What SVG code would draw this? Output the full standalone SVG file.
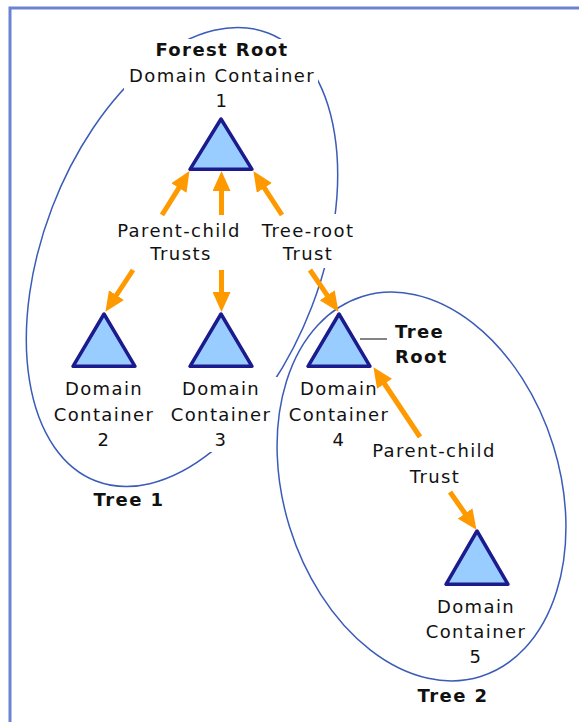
<svg xmlns="http://www.w3.org/2000/svg" width="579" height="722" viewBox="0 0 579 722">
<style>
.t{font-family:"DejaVu Sans","Liberation Sans",sans-serif;font-size:18px;letter-spacing:1.4px;fill:#111;text-anchor:middle}
.b{font-weight:bold}
.tri{fill:#99ccff;stroke:#1b1b8e;stroke-width:3.5;stroke-linejoin:round}
.ell{fill:none;stroke:#3b5bb8;stroke-width:1.5}
.arr{stroke:#ff9900;stroke-width:5;fill:none;marker-end:url(#ah)}
</style>
<defs>
<marker id="ah" markerUnits="userSpaceOnUse" markerWidth="20" markerHeight="18" viewBox="0 0 20 18" refX="1" refY="9" orient="auto">
<path d="M0,0 L20,9 L0,18 Z" fill="#ff9900"/>
</marker>
<mask id="m1" maskUnits="userSpaceOnUse" x="0" y="0" width="579" height="722">
<rect width="579" height="722" fill="#fff"/>
<rect x="124" y="39" width="194" height="72" fill="#000"/>
<rect x="300" y="214" width="50" height="54" fill="#000"/>
<rect x="178" y="377" width="112" height="75" fill="#000"/>
</mask>
</defs>
<rect width="579" height="722" fill="#fff"/>
<path d="M10,722 V8 H579" fill="none" stroke="#6b83d3" stroke-width="3"/>

<g id="tree1">
<g mask="url(#m1)">
<ellipse class="ell" cx="182" cy="257" rx="240" ry="139" transform="rotate(-69 182 257)"/>
</g>
<text class="t b" x="129" y="506">Tree 1</text>
</g>
<g id="tree2">
<ellipse class="ell" cx="421.5" cy="486.5" rx="199" ry="138" transform="rotate(72.7 421.5 486.5)"/>
<text class="t b" x="453" y="702">Tree 2</text>
</g>

<g id="node1">
<polygon class="tri" points="221,119 190,169.3 252,169.3"/>
<text class="t b" x="222" y="56">Forest Root</text>
<text class="t" x="222" y="82">Domain Container</text>
<text class="t" x="222" y="107">1</text>
</g>
<g id="node2">
<polygon class="tri" points="104,314 73,366.3 135,366.3"/>
<text class="t" x="104" y="395">Domain</text>
<text class="t" x="104" y="421">Container</text>
<text class="t" x="104" y="446">2</text>
</g>
<g id="node3">
<polygon class="tri" points="221,314 190,366.3 252,366.3"/>
<text class="t" x="221" y="395">Domain</text>
<text class="t" x="221" y="421">Container</text>
<text class="t" x="221" y="446">3</text>
</g>
<g id="node4">
<polygon class="tri" points="339,314 308,366.3 370,366.3"/>
<text class="t" x="339" y="395">Domain</text>
<text class="t" x="339" y="421">Container</text>
<text class="t" x="339" y="446">4</text>
<line x1="360" y1="339" x2="387" y2="339" stroke="#404040" stroke-width="1.3"/>
<text class="t b" x="395" y="338" style="text-anchor:start">Tree</text>
<text class="t b" x="395" y="363" style="text-anchor:start">Root</text>
</g>
<g id="node5">
<polygon class="tri" points="477,531 446,584.3 508,584.3"/>
<text class="t" x="476" y="613">Domain</text>
<text class="t" x="476" y="638">Container</text>
<text class="t" x="476" y="663">5</text>
</g>

<g id="connectors">
<line class="arr" x1="162" y1="215" x2="179.4" y2="187.2"/>
<line class="arr" x1="221.5" y1="215" x2="221.5" y2="190"/>
<line class="arr" x1="282" y1="215" x2="263.8" y2="187.1"/>
<line class="arr" x1="133" y1="270" x2="115.9" y2="296"/>
<line class="arr" x1="221.5" y1="270" x2="221.5" y2="293"/>
<line class="arr" x1="310" y1="270" x2="327.8" y2="296.1"/>
<line class="arr" x1="420" y1="437" x2="384" y2="383"/>
<line class="arr" x1="450" y1="492" x2="465.6" y2="514.3"/>
<text class="t" x="179" y="237">Parent-child</text>
<text class="t" x="181" y="260">Trusts</text>
<text class="t" x="308" y="237">Tree-root</text>
<text class="t" x="308" y="260">Trust</text>
<text class="t" x="434" y="457">Parent-child</text>
<text class="t" x="435" y="483">Trust</text>
</g>
</svg>
